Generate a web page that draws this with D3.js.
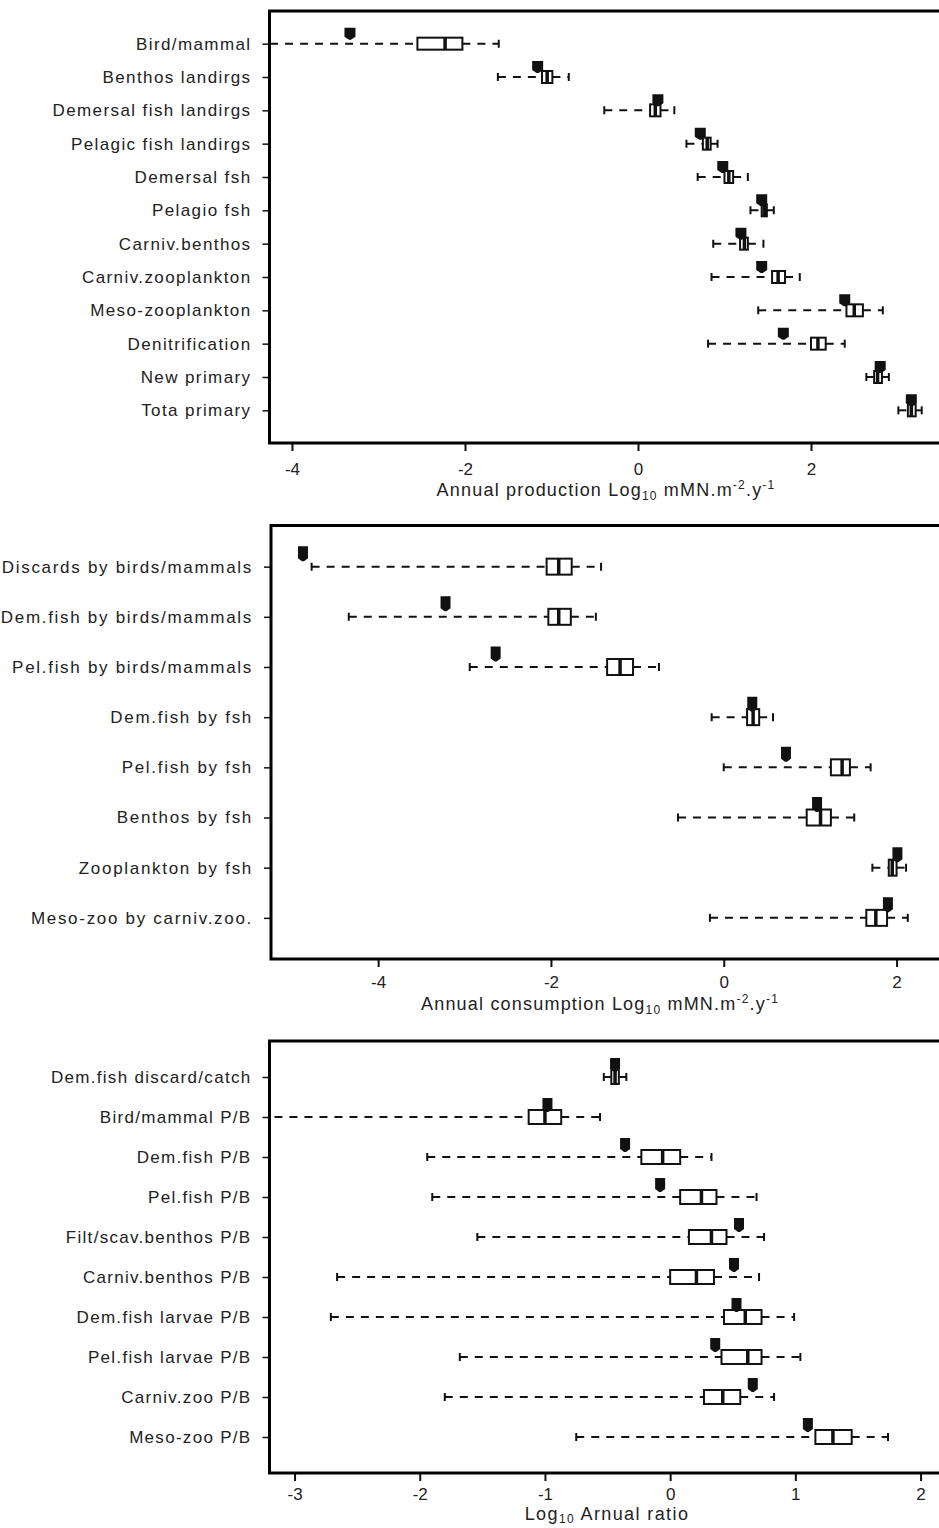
<!DOCTYPE html>
<html>
<head>
<meta charset="utf-8">
<script src="https://cdn.jsdelivr.net/npm/d3@7"></script>
<style>
  body { margin: 0; background: #fff; }
  svg text { font-family: "Liberation Sans", Arial, sans-serif; fill: #222; }
</style>
</head>
<body>
<svg id="chart" width="939" height="1528"></svg>
<script>
// ---- panel 1 : annual production ----
const prodLabels = ["Bird/mammal", "Benthos landirgs", "Demersal fish landirgs", "Pelagic fish landirgs",
  "Demersal fsh", "Pelagio fsh", "Carniv.benthos", "Carniv.zooplankton", "Meso-zooplankton",
  "Denitrification", "New primary", "Tota  primary"];
const prodObs = [-3.33, -1.16, 0.23, 0.72, 0.98, 1.43, 1.19, 1.43, 2.39, 1.68, 2.80, 3.16];
const prodLo  = [-4.6, -1.62, -0.39, 0.56, 0.69, 1.30, 0.87, 0.85, 1.39, 0.81, 2.64, 3.01];
const prodQ1  = [-2.55, -1.11, 0.14, 0.75, 1.00, 1.43, 1.18, 1.55, 2.41, 2.00, 2.73, 3.12];
const prodMed = [-2.23, -1.05, 0.20, 0.80, 1.05, 1.46, 1.23, 1.62, 2.50, 2.08, 2.77, 3.16];
const prodQ3  = [-2.03, -0.99, 0.26, 0.84, 1.10, 1.49, 1.27, 1.70, 2.60, 2.17, 2.82, 3.21];
const prodHi  = [-1.61, -0.80, 0.42, 0.92, 1.27, 1.57, 1.45, 1.87, 2.83, 2.39, 2.90, 3.28];

// ---- panel 2 : annual consumption ----
const consLabels = ["Discards by birds/mammals", "Dem.fish by birds/mammals", "Pel.fish by birds/mammals",
  "Dem.fish by fsh", "Pel.fish by fsh", "Benthos by fsh", "Zooplankton by fsh", "Meso-zoo by carniv.zoo."];
const consObs = [-4.87, -3.22, -2.64, 0.33, 0.72, 1.08, 2.01, 1.90];
const consLo  = [-4.77, -4.34, -2.94, -0.14, 0.00, -0.53, 1.72, -0.16];
const consQ1  = [-2.05, -2.03, -1.35, 0.27, 1.24, 0.96, 1.91, 1.65];
const consMed = [-1.91, -1.91, -1.20, 0.34, 1.37, 1.12, 1.95, 1.76];
const consQ3  = [-1.76, -1.77, -1.05, 0.41, 1.46, 1.24, 2.00, 1.89];
const consHi  = [-1.42, -1.48, -0.75, 0.57, 1.70, 1.51, 2.11, 2.13];

// ---- panel 3 : ratios ----
const ratioLabels = ["Dem.fish discard/catch", "Bird/mammal P/B", "Dem.fish P/B", "Pel.fish P/B",
  "Filt/scav.benthos P/B", "Carniv.benthos P/B", "Dem.fish larvae P/B", "Pel.fish larvae P/B",
  "Carniv.zoo P/B", "Meso-zoo P/B"];
const ratioObs = [-0.44, -0.98, -0.36, -0.08, 0.55, 0.51, 0.53, 0.36, 0.66, 1.10];
const ratioLo  = [-0.53, -3.40, -1.94, -1.90, -1.54, -2.66, -2.71, -1.68, -1.80, -0.75];
const ratioQ1  = [-0.47, -1.13, -0.23, 0.08, 0.15, 0.00, 0.43, 0.41, 0.27, 1.16];
const ratioMed = [-0.44, -1.00, -0.06, 0.25, 0.33, 0.21, 0.60, 0.62, 0.42, 1.30];
const ratioQ3  = [-0.41, -0.87, 0.08, 0.37, 0.45, 0.35, 0.73, 0.73, 0.56, 1.45];
const ratioHi  = [-0.35, -0.56, 0.33, 0.69, 0.75, 0.71, 0.99, 1.04, 0.83, 1.74];

const prodTicks = [-4, -2, 0, 2];
const consTicks = [-4, -2, 0, 2];
const ratioTicks = [-3, -2, -1, 0, 1, 2];

const svg = d3.select("#chart");

function rows(labels, obs, lo, q1, med, q3, hi) {
  return labels.map((l, i) => ({label: l, obs: obs[i], lo: lo[i], q1: q1[i], med: med[i], q3: q3[i], hi: hi[i], pos: i + 1}));
}

function drawPanel(id, data, opt) {
  const n = data.length;
  const x = d3.scaleLinear().domain(opt.xdom).range([opt.left, opt.right]);
  const y = d3.scaleLinear().domain([0.5 - 0.04 * n, n + 0.5 + 0.04 * n]).range([opt.top, opt.bottom]);
  const g = svg.append("g").attr("id", id);

  g.append("clipPath").attr("id", id + "-clip")
    .append("rect").attr("x", opt.left).attr("y", opt.top)
    .attr("width", opt.right - opt.left).attr("height", opt.bottom - opt.top);

  // axes
  const xa = g.append("g").attr("transform", `translate(0,${opt.bottom})`)
    .call(d3.axisBottom(x).tickValues(opt.ticks).tickSize(8).tickPadding(opt.tickPad).tickFormat(d => String(d)));
  xa.select(".domain").remove();
  xa.selectAll("line").attr("stroke", "#111").attr("stroke-width", 2);
  xa.selectAll("text").attr("font-size", 17).attr("fill", "#222")
    .attr("font-family", "Liberation Sans, Arial, sans-serif");

  const ya = g.append("g").attr("transform", `translate(${opt.left},0)`)
    .call(d3.axisLeft(y).tickValues(data.map(d => d.pos)).tickSize(7).tickPadding(11)
      .tickFormat((d, i) => data[i].label));
  ya.select(".domain").remove();
  ya.selectAll("line").attr("stroke", "#111").attr("stroke-width", 1.5);
  ya.selectAll("text").attr("font-size", opt.labelSize).attr("fill", "#222")
    .attr("letter-spacing", opt.spacing)
    .attr("font-family", "Liberation Sans, Arial, sans-serif");

  const body = g.append("g").attr("clip-path", `url(#${id}-clip)`);
  const row = body.selectAll("g.row").data(data).join("g").attr("class", "row");

  // whiskers
  row.append("line").attr("x1", d => x(d.lo)).attr("x2", d => x(d.q1))
    .attr("y1", d => y(d.pos)).attr("y2", d => y(d.pos))
    .attr("stroke", "#111").attr("stroke-width", 2).attr("stroke-dasharray", "8,7");
  row.append("line").attr("x1", d => x(d.q3)).attr("x2", d => x(d.hi))
    .attr("y1", d => y(d.pos)).attr("y2", d => y(d.pos))
    .attr("stroke", "#111").attr("stroke-width", 2).attr("stroke-dasharray", "8,7");
  // staples
  ["lo", "hi"].forEach(k => {
    row.append("line").attr("x1", d => x(d[k])).attr("x2", d => x(d[k]))
      .attr("y1", d => y(d.pos) - 4).attr("y2", d => y(d.pos) + 4)
      .attr("stroke", "#111").attr("stroke-width", 2);
  });
  // box
  row.append("rect").attr("x", d => x(d.q1)).attr("width", d => x(d.q3) - x(d.q1))
    .attr("y", d => y(d.pos) - opt.boxH / 2).attr("height", opt.boxH)
    .attr("fill", "#fff").attr("stroke", "#111").attr("stroke-width", 2);
  row.append("line").attr("x1", d => x(d.med)).attr("x2", d => x(d.med))
    .attr("y1", d => y(d.pos) - opt.boxH / 2).attr("y2", d => y(d.pos) + opt.boxH / 2)
    .attr("stroke", "#111").attr("stroke-width", 3.5);
  // observed value marker
  const mw = opt.markW, mh = opt.markH;
  row.append("path")
    .attr("d", d => {
      const cx = x(d.obs), cy = y(d.pos) - opt.markOff;
      return `M${cx - mw / 2},${cy - mh / 2}H${cx + mw / 2}V${cy + mh / 2 - 1}L${cx + 1},${cy + mh / 2 + 2}H${cx - 1}L${cx - mw / 2},${cy + mh / 2 - 1}Z`;
    })
    .attr("fill", "#111");

  // frame
  g.append("rect").attr("x", opt.left).attr("y", opt.top)
    .attr("width", opt.right - opt.left).attr("height", opt.bottom - opt.top)
    .attr("fill", "none").attr("stroke", "#000").attr("stroke-width", 3);

  // title
  const t = g.append("text").attr("x", opt.titleX).attr("y", opt.titleY)
    .attr("text-anchor", "middle").attr("font-size", 18).attr("letter-spacing", opt.titleSpacing)
    .attr("fill", "#222");
  opt.title.forEach(p => {
    const s = t.append("tspan").text(p.t);
    if (p.sub) s.attr("font-size", 12).attr("dy", p.dy);
    if (p.sup) s.attr("font-size", 12).attr("dy", p.dy);
    if (p.back) s.attr("dy", p.back);
  });
}

drawPanel("prod", rows(prodLabels, prodObs, prodLo, prodQ1, prodMed, prodQ3, prodHi), {
  xdom: [-4.26, 3.6], left: 269.5, right: 949.4, top: 11, bottom: 443,
  ticks: prodTicks, tickPad: 12, labelSize: 17, spacing: 1.4, boxH: 12,
  markW: 11, markH: 10, markOff: 11,
  titleX: 606, titleY: 496, titleSpacing: 1.2,
  title: [{t: "Annual production Log"}, {t: "10", sub: true, dy: 4}, {t: " mMN.m", back: -4},
    {t: "-2", sup: true, dy: -7}, {t: ".y", back: 7}, {t: "-1", sup: true, dy: -7}]
});

drawPanel("cons", rows(consLabels, consObs, consLo, consQ1, consMed, consQ3, consHi), {
  xdom: [-5.24, 2.6], left: 271, right: 948.4, top: 525.5, bottom: 959,
  ticks: consTicks, tickPad: 9, labelSize: 17, spacing: 1.7, boxH: 16,
  markW: 10, markH: 13, markOff: 14,
  titleX: 600, titleY: 1010, titleSpacing: 1.2,
  title: [{t: "Annual consumption Log"}, {t: "10", sub: true, dy: 4}, {t: " mMN.m", back: -4},
    {t: "-2", sup: true, dy: -7}, {t: ".y", back: 7}, {t: "-1", sup: true, dy: -7}]
});

drawPanel("ratio", rows(ratioLabels, ratioObs, ratioLo, ratioQ1, ratioMed, ratioQ3, ratioHi), {
  xdom: [-3.2, 2.2], left: 269.5, right: 945.6, top: 1041, bottom: 1473,
  ticks: ratioTicks, tickPad: 7, labelSize: 17, spacing: 1.3, boxH: 14,
  markW: 10, markH: 12, markOff: 13,
  titleX: 607, titleY: 1520, titleSpacing: 1.4,
  title: [{t: "Log"}, {t: "10", sub: true, dy: 3}, {t: " Arnual ratio", back: -3}]
});
</script>
</body>
</html>
